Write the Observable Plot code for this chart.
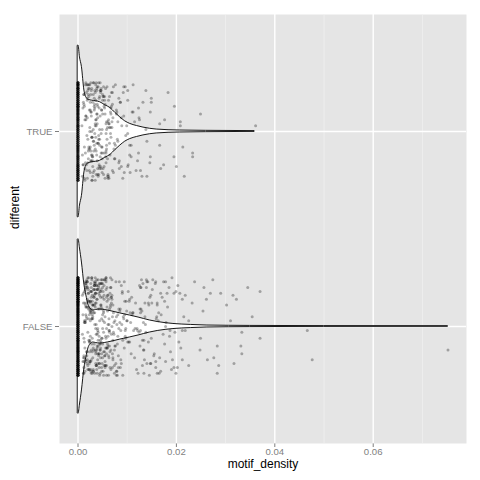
<!DOCTYPE html>
<html><head><meta charset="utf-8">
<script src="https://cdn.jsdelivr.net/npm/d3@7"></script>
<script src="https://cdn.jsdelivr.net/npm/@observablehq/plot@0.6"></script>
<style>body{margin:0;background:#fff}#chart{width:480px;height:480px}</style>
</head><body><div id="chart"></div>
<script>
// categories (y positions of the discrete scale)
const groups = ["FALSE", "TRUE"];
const groupPos = [1, 2];
const xTicks = [0, 0.02, 0.04, 0.06];
const xMinor = [0.01, 0.03, 0.05, 0.07];

// violin outlines: motif_density and half width (y units)
const trueViolinX = [0, 0.0001, 0.0004, 0.0008, 0.0013, 0.0018, 0.0022, 0.0029, 0.0045, 0.0055, 0.0066, 0.0076, 0.0086, 0.0096, 0.0106, 0.012, 0.0133, 0.016, 0.0208, 0.026, 0.0359];
const trueViolinHW = [0.44, 0.441, 0.38, 0.33, 0.21, 0.17, 0.162, 0.158, 0.15, 0.135, 0.12, 0.095, 0.072, 0.052, 0.039, 0.028, 0.02, 0.01, 0.005, 0.0035, 0.002];
const falseViolinX = [0, 0.0001, 0.0004, 0.0008, 0.0013, 0.0017, 0.0021, 0.0025, 0.0031, 0.0037, 0.0045, 0.0066, 0.0086, 0.0106, 0.0123, 0.0146, 0.0162, 0.0194, 0.023, 0.0263, 0.035, 0.05, 0.0752];
const falseViolinHW = [0.446, 0.448, 0.40, 0.328, 0.215, 0.159, 0.113, 0.092, 0.082, 0.085, 0.087, 0.079, 0.067, 0.056, 0.046, 0.031, 0.023, 0.013, 0.008, 0.005, 0.003, 0.002, 0.0015];

// jittered points: motif_density in units of 1e-4, vertical jitter in hundredths
const trueDensityE4 = [
12,25,38,47,8,33,61,19,42,55,27,70,15,36,49,22,81,30,58,44,
17,39,64,26,52,11,34,73,46,21,57,31,88,40,14,67,29,50,37,24,
62,18,45,33,76,9,53,28,41,69,35,20,59,48,84,23,38,66,13,43,
31,55,94,26,47,16,72,39,60,22,51,35,79,28,45,10,63,32,56,41,
19,37,86,49,24,68,30,54,15,42,75,27,60,36,99,21,47,33,58,40,
105,64,29,52,18,44,78,34,57,23,91,39,48,12,70,31,62,26,45,36,
112,53,20,41,83,30,66,25,49,118,38,57,16,74,43,96,28,61,35,50,
27,89,46,102,33,58,21,125,40,67,14,54,80,37,108,25,63,44,132,32,
361,249,216,196,200,183,208,208,213,233,233,195,176,166,166,174,168,149,149,138,
147,138,140,147,146,140,130,127,123,121,112,123,124,110,101,101,93,108,105,101,106,
22,47,15,63,34,9,52,28,71,40,18,57,31,86,44,25,66,12,49,37,
59,20,43,78,29,54,16,38,92,47,23,68,35,13,56,30,81,42,26,61,
33,74,19,50,39,11,64,27,45,97,21,58,36,70,14,48,32,83,41,24,
53,17,67,30,42,88,26,60,10,46,35,76,22,55,39,101,28,65,19,51,
37,84,24,49,13,62,31,115,44,20,57,34,72,27,43,16,69,38,93,29];
const trueJitter = [
14,-8,22,-19,3,11,-24,17,-2,9,-15,20,-11,6,-21,24,-5,-13,1,18,
-17,23,-6,10,-22,15,-1,-9,21,-14,4,25,-18,7,-25,12,-3,19,-10,2,
16,-20,8,-7,24,-12,13,0,-23,5,20,-16,-4,11,-19,22,9,-1,-24,17,
-5,14,-21,19,-11,6,23,-15,2,-8,18,-25,10,-3,21,-17,4,25,-13,-6,
7,-22,15,1,-9,20,-18,12,24,-4,-14,8,-23,16,3,-10,22,-20,5,13,
-7,18,-12,23,-2,-19,9,21,-16,11,-24,4,-8,19,14,-21,6,-15,25,-3,
10,-18,24,-6,17,-23,2,15,-11,-20,21,-1,8,-14,12,23,-25,5,-9,16,
-12,3,20,-17,13,-7,22,6,-22,9,-19,18,-4,25,-13,11,-24,1,15,-10,
3,9,-23,13,-18,20,5,3,-8,-11,-13,-13,6,4,-7,-17,-19,17,15,21,
10,1,-5,-13,-16,-23,-23,-20,-11,-15,24,12,7,10,16,21,23,-7,-12,-18,-21,
-9,21,-16,4,12,-23,18,-3,7,-19,24,-11,1,15,-7,-21,10,19,-14,6,
23,-4,-18,11,-25,16,8,-12,20,-1,-20,13,3,-8,22,-15,5,25,-10,-22,
17,-6,-24,9,14,-17,2,21,-13,-2,19,-9,24,-20,6,11,-5,-16,23,0,
-11,20,-3,15,-22,7,25,-14,12,-18,4,-7,18,-24,9,-1,22,-12,16,-19,
3,-15,24,-8,13,-23,19,5,-4,21,-10,14,-21,10,-17,25,2,-6,8,-13];
const trueZeroJitter = [
24,-3,11,-18,7,-22,15,0,-9,20,-14,5,-25,18,-6,13,-20,2,22,-11,
9,-16,25,-1,-23,14,-8,19,4,-13,21,-19,6,-4,16,-24,10,-10,23,1,
-17,12,-7,24,-21,8,-2,17,-15,3,-12,20,-5,25,-18,11,-22,14,-9,6,
19,-25,0,15,-6,22,-14,9,-20,3,17,-11,24,-3,-16,7,13,-23,18,-1,
5,-19,21,-8,10,-13,23,-24,2,16,-4,12,-21,8,-10,25,-17,4,-7,20,
14,-2,-18,11,-12,19,6,-22,1,-15,24,-5,9,-20,15,-9,22,-25,3,13,
-12,6,19,-24,1,13,-8,22,-17,10,-3,25,-20,7,16,-14,3,-22,12,-6,
21,-10,-1,18,-25,8,14,-19,5,23,-13,-4,11,-21,20,0,-16,9,24,-7,
2,-23,15,-11,19,-2,7,-18,22,-9,13,-24,4,17,-15,10,-5,25,-20,1,
-13,16,-8,21,3,-22,12,-17,6,24,-1,-19,11,18,-10,-25,8,14,-4,20,
-14,5,23,-21,9,-7,17,0,-16,22,-12,2,-24,13,7,-9,19,-3,15,-18,
10,-23,4,21,-6,12,-15,24,-11,1,18,-20,6,-2,16,-13,25,-8,11,-17,
3,22,-14,9,-21,14,-5,20,-10,-19];

const falseDensityE4 = [
14,32,51,23,68,9,41,87,27,56,18,73,36,48,105,21,62,30,44,95,
38,12,59,26,79,45,17,66,33,112,24,53,40,84,11,70,29,47,128,35,
20,61,43,99,28,54,15,76,39,58,22,91,34,120,49,16,65,31,81,42,
57,25,117,37,69,13,46,88,30,52,19,74,41,103,27,63,10,50,36,93,
23,71,44,135,32,60,18,83,39,55,26,108,47,14,67,35,97,29,52,21,
78,40,16,64,33,124,48,25,89,57,12,72,38,51,101,28,45,19,68,34,
46,110,27,59,15,80,36,53,22,96,41,65,30,131,49,17,75,38,56,24,
62,31,86,43,20,115,54,35,70,11,48,92,26,58,39,77,18,106,44,29,
37,66,13,50,82,28,139,45,21,61,34,98,16,55,42,73,31,119,25,47,
85,19,53,36,107,60,24,42,78,15,64,33,94,50,27,126,39,57,22,69,
44,90,30,58,17,74,37,113,52,26,67,41,100,20,55,34,81,46,12,63,
28,50,71,35,122,43,18,60,32,88,24,57,45,104,38,15,69,29,95,40,
142,158,127,171,149,185,133,163,195,144,176,129,154,207,138,168,182,147,125,160,
173,136,190,151,130,166,212,145,179,157,126,199,140,169,188,152,134,176,218,148,
161,131,181,143,203,155,137,174,192,128,165,146,186,139,209,159,132,178,150,197,
345,370,354,333,370,331,333,466,476,752,317,315,322,290,274,310,302,283,286,283,
276,263,269,256,261,254,249,248,237,232,225,225,218,215,212,212,205,202,199,195,
191,178,178,187,164,168,161,158,158,161,148,140,143,136,127,134,134,127,
16,43,27,65,9,52,34,80,21,47,13,71,38,58,25,96,31,49,18,62,
40,11,55,29,74,36,22,109,45,17,63,33,85,50,26,14,68,39,57,24,
30,77,19,48,35,121,42,15,59,28,91,53,23,66,37,12,46,82,32,54,
61,25,39,102,17,50,33,72,44,20,58,27,94,41,13,67,36,116,48,22,
35,56,14,79,28,45,63,19,38,87,26,52,10,70,42,31,99,47,23,60,
18,53,37,66,24,111,44,29,75,15,49,34,58,21,83,40,27,64,12,46,
55,32,90,20,47,36,69,13,51,28,105,43,17,61,35,78,25,57,39,133,
26,64,41,19,54,33,86,48,22,71,30,15,59,38,97,45,24,67,11,50];
const falseJitter = [
-11,19,-23,6,15,-4,24,-17,9,-20,12,2,-14,22,-8,17,-25,4,-19,13,
21,-6,10,-22,1,18,-13,25,-9,7,-18,14,-2,23,-16,5,-24,11,20,-12,
-3,16,-21,8,24,-15,3,-10,19,-25,13,-7,22,-1,-19,10,17,-23,6,-14,
25,-5,12,-20,0,18,-11,21,-16,7,23,-24,9,-8,15,-2,-18,20,-13,4,
-22,11,3,-17,19,-9,24,-1,14,-21,8,-14,22,2,-12,17,-6,13,-25,9,
5,-19,20,-10,15,-3,-23,12,1,23,-15,7,-20,18,-8,25,-12,10,-4,21,
-16,6,-24,13,22,-9,17,-20,4,-2,19,-13,11,-7,24,-18,3,21,-11,8,
14,-23,9,-5,20,-16,2,25,-14,12,-21,5,18,-1,-10,23,-19,7,16,-6,
-20,10,-8,22,-15,4,24,-12,17,1,-24,13,6,-18,20,-4,11,-22,3,19,
8,-13,24,-19,2,16,-7,21,-25,11,-3,23,-11,15,-17,9,19,-6,-22,14,
-9,17,5,-14,23,-20,12,-2,8,-23,20,-10,3,25,-15,7,-5,18,-21,1,
18,-1,-16,10,-24,22,4,-11,15,-19,9,24,-7,13,-22,2,16,-13,6,-17,
23,-18,7,15,-6,20,-12,3,-21,11,-9,24,-15,17,-3,-23,10,-19,21,5,
-4,12,-22,19,8,-16,14,-25,2,22,-10,18,-19,6,-13,24,-7,13,-2,16,
11,-20,17,-8,21,-14,1,23,-17,9,-24,15,-5,20,-11,4,22,-18,12,-3,
20,18,5,-3,-6,-10,-14,-2,-17,-12,-19,16,14,17,24,3,11,-10,-20,-24,
-16,-17,17,20,14,8,-6,-12,23,12,3,-20,16,5,-2,-17,-8,-21,-24,17,
25,23,0,-2,7,17,12,23,-21,-24,-19,23,12,5,-2,-12,-24,20,
22,-14,7,-21,16,-3,11,-25,19,-8,3,-17,24,-11,13,-5,-22,9,20,-15,
-1,17,-20,6,-12,23,-7,15,-24,10,-16,21,2,-9,18,-23,12,-4,25,-13,
8,-19,14,-6,22,-2,-15,19,-11,4,-25,16,-8,20,1,-18,11,-21,7,24,
-10,13,-24,18,5,-16,21,-3,9,-20,15,-12,23,-7,2,-22,17,-1,-14,10,
19,-5,12,-23,25,-9,4,-17,14,-2,22,-13,6,-21,17,-11,3,24,-19,8,
-15,21,-4,11,-18,7,-25,16,-10,23,-6,1,-20,13,9,-14,20,-2,-24,15,
5,-12,18,-22,10,-1,24,-16,3,-9,14,-19,21,-5,12,-23,7,19,-11,2,
-18,9,-3,23,-13,16,-21,4,25,-7,11,-17,20,-12,-1,22,-8,15,-24,6];
const falseZeroJitter = [
-7,18,3,-21,12,-14,24,-2,9,-18,15,-25,6,21,-10,1,-16,23,-5,11,
19,-12,-23,8,-1,16,-19,4,25,-8,13,-22,2,20,-15,7,-3,22,-11,14,
-24,10,17,-6,0,-20,24,-13,5,18,-9,12,-17,21,-4,-25,15,3,-14,9,
23,-7,-19,6,16,-2,-22,11,1,-16,20,-10,8,25,-12,13,-21,4,-5,17,
-23,10,2,-18,19,-8,14,-24,7,22,-3,-15,12,0,-20,18,-11,5,24,-6,
15,-1,-13,21,-17,9,3,-25,16,-9,23,-14,6,-22,11,1,19,-4,-18,13,
8,-21,24,-10,2,17,-7,-23,14,-2,20,-16,5,12,-12,25,-19,10,-5,-24,
22,-8,7,-15,18,-1,-20,4,23,-11,9,-17,16,-3,21,-13,0,-22,11,14,
11,-20,4,22,-13,17,-6,-24,9,1,-17,19,-9,24,-2,13,-22,6,15,-11,
-4,21,-15,8,-25,18,0,-10,23,-18,12,-7,3,-21,16,-12,25,-1,10,-19,
20,-5,-14,7,22,-23,14,-8,2,-16,19,-3,24,-20,5,11,-11,17,-24,-6,
13,-18,8,21,-2,-13,25,-22,4,16,-9,-25,10,1,-15,23,-7,18,-19,6,
-21,15,-1,12,-10,24,3,-16,19,-4,-23,9,20,-12,0,14,-8,-20,22,7,
17,-24,5,-14,11,-6,23,-18,2,21,-3,-11,16,-22,8,-17,25,-9,13,-1,
-15,4,19,-25,10,-7,22,-13,6,18,-20,1,-5,24,-16,12,-10,20,-2,-21,
14,-19,3,23,-12,9,-23,17,-8,0,21,-14,7,-24,15,-4,11,-18,25,5,
-6,16,-22,2,19,-11,13,-3,-17,8,24,-9,-20,12,-25,6,18,-13,1,22];

// build tables
const violin = [];
trueViolinX.forEach((x, i) => violin.push({g: "TRUE", x, y1: groupPos[1] - trueViolinHW[i], y2: groupPos[1] + trueViolinHW[i]}));
falseViolinX.forEach((x, i) => violin.push({g: "FALSE", x, y1: groupPos[0] - falseViolinHW[i], y2: groupPos[0] + falseViolinHW[i]}));

const points = [];
function addPts(pos, xs, js) { xs.forEach((v, i) => points.push({x: v / 1e4, y: pos + js[i] / 100})); }
addPts(groupPos[0], falseDensityE4, falseJitter);
addPts(groupPos[0], falseZeroJitter.map(() => 0), falseZeroJitter);
addPts(groupPos[1], trueDensityE4, trueJitter);
addPts(groupPos[1], trueZeroJitter.map(() => 0), trueZeroJitter);

const plot = Plot.plot({
  width: 480, height: 480,
  marginLeft: 59, marginRight: 14, marginTop: 14, marginBottom: 37,
  style: {fontFamily: "'Liberation Sans', Arial, Helvetica, sans-serif", fontSize: "9.6px", color: "#7f7f7f", background: "#fff"},
  x: {domain: [-0.00376, 0.07896], ticks: xTicks, tickFormat: d3.format(".2f"), tickSize: 4, tickPadding: 1, label: null},
  y: {domain: [0.4, 2.6], ticks: groupPos, tickFormat: d => groups[groupPos.indexOf(d)], tickSize: 4, tickPadding: 3, label: null},
  marks: [
    Plot.frame({fill: "#e5e5e5", stroke: "none"}),
    Plot.ruleX(xMinor, {stroke: "#f2f2f2", strokeWidth: 0.7}),
    Plot.ruleX(xTicks, {stroke: "#ffffff", strokeWidth: 1.4}),
    Plot.ruleY(groupPos, {stroke: "#ffffff", strokeWidth: 1.4}),
    Plot.areaY(violin, {x: "x", y1: "y1", y2: "y2", z: "g", fill: "white", stroke: "black", strokeWidth: 0.9, curve: "monotone-x"}),
    Plot.dot(points, {x: "x", y: "y", r: 1.5, fill: "black", fillOpacity: 0.3}),
    Plot.text(["motif_density"], {frameAnchor: "bottom", dy: 24, fontSize: 12, fill: "black"}),
    Plot.text(["different"], {frameAnchor: "left", dx: -44, rotate: -90, fontSize: 12, fill: "black"})
  ]
});
document.getElementById("chart").appendChild(plot);
</script>
</body></html>
